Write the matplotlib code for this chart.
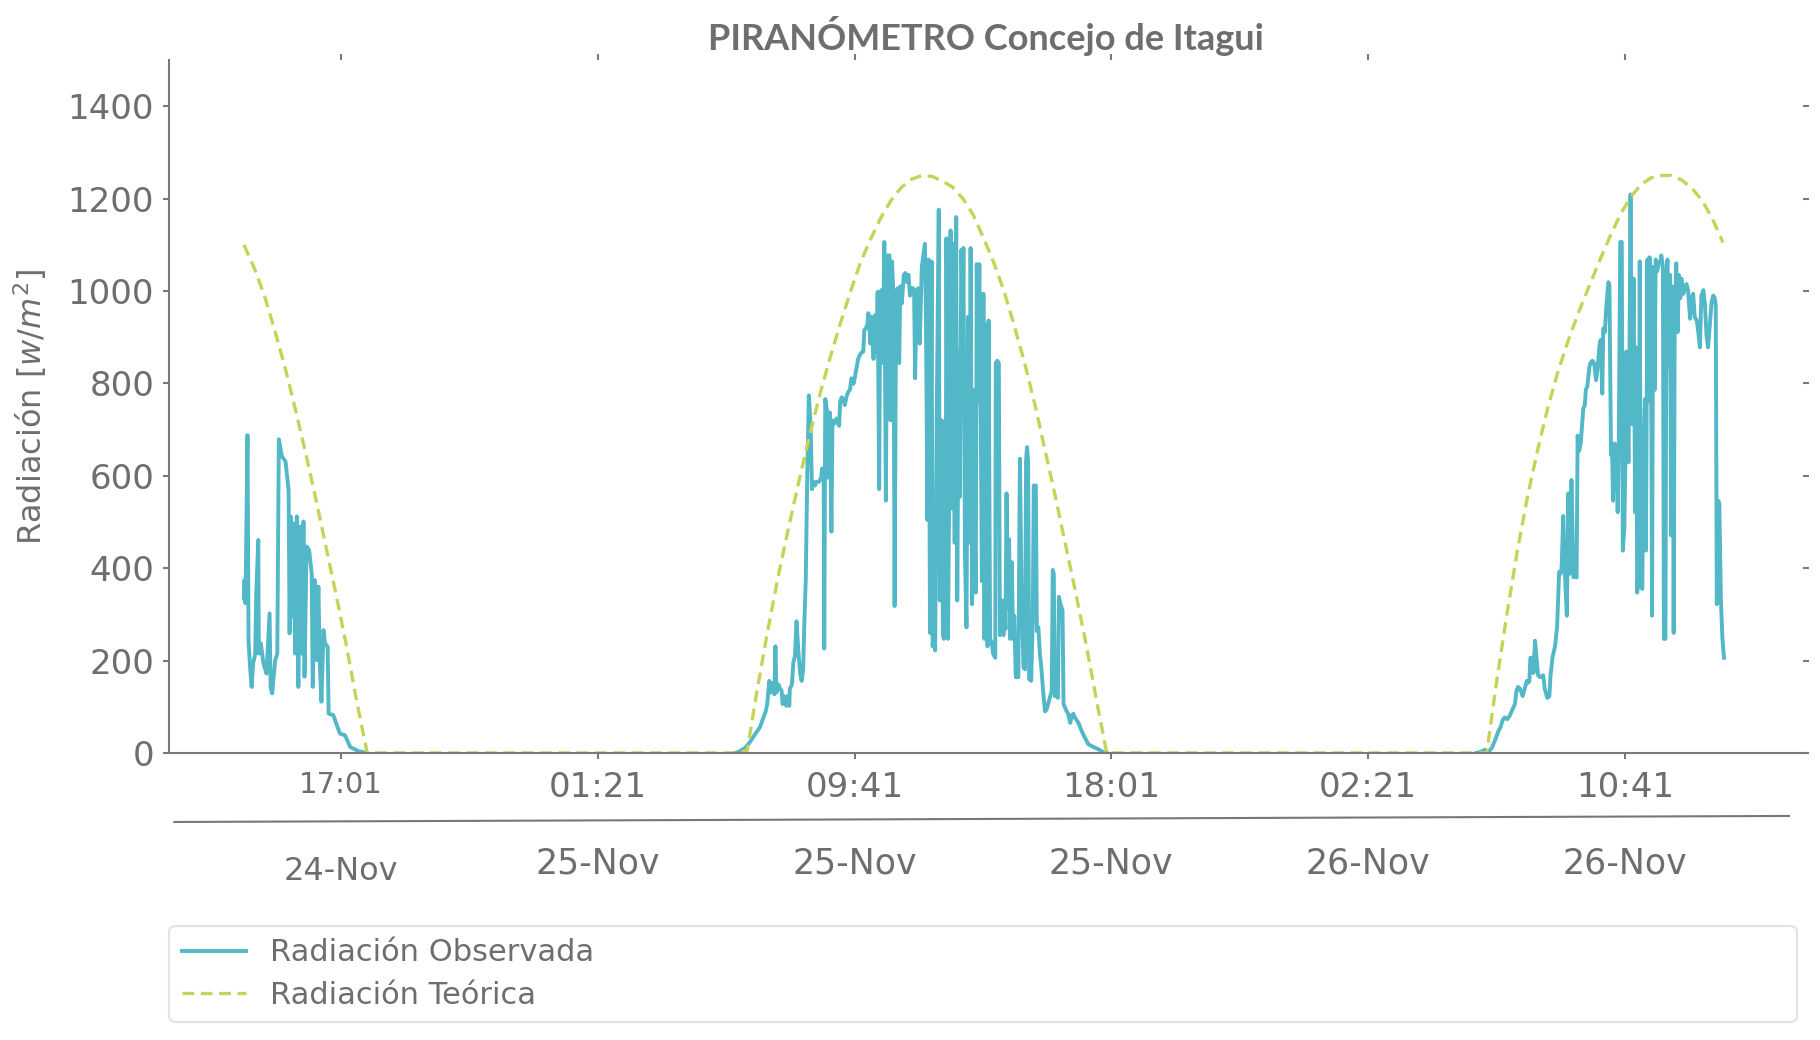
import numpy as np
import pandas as pd
import matplotlib
matplotlib.use("Agg")
import matplotlib.pyplot as plt
import matplotlib.dates as mdates
from matplotlib.transforms import blended_transform_factory

# ---------------- data ----------------
START = pd.Timestamp("2023-11-24 13:52")

# Observed radiation: minutes since START and W/m2 (one list pair per day)
obs_d1_min = [0, 1, 3, 7, 9, 12, 15, 18, 22, 24, 28, 29, 33, 38, 44, 50, 52, 55, 61, 65,
              68, 74, 81, 87, 89, 91, 93, 96, 100, 103, 106, 109, 113, 116, 118, 122, 127, 132, 134, 138,
              142, 145, 148, 151, 155, 158, 163, 165, 174, 181, 187, 197, 207, 223, 239]
obs_d1_val = [335, 374, 324, 688, 244, 186, 143, 194, 215, 345, 461, 215, 237, 194, 172, 302, 143, 129, 201, 215,
              679, 642, 631, 569, 259, 512, 295, 497, 215, 512, 143, 490, 215, 501, 165, 447, 439, 389, 143, 374,
              201, 360, 186, 111, 266, 237, 230, 85, 82, 60, 42, 38, 13, 4, 0]

obs_d2_min = [956, 963, 976, 985, 995, 1005, 1011, 1016, 1019, 1023, 1026, 1030, 1033, 1035, 1037, 1041, 1044, 1047,
              1049, 1052, 1056, 1059, 1062, 1063, 1067, 1070, 1073, 1076, 1080, 1083, 1086, 1089, 1091, 1094, 1097,
              1100, 1102, 1104, 1106, 1109, 1112, 1115, 1120, 1124, 1126, 1129, 1130, 1132, 1135, 1138, 1141, 1144,
              1146, 1149, 1154, 1159, 1161, 1164, 1167, 1170, 1174, 1177, 1180, 1183, 1187, 1190, 1196, 1201, 1206,
              1208, 1211, 1214, 1216, 1218, 1220, 1222, 1226, 1229, 1232, 1234, 1237, 1239, 1242, 1244, 1247, 1250,
              1253, 1257, 1259, 1262, 1265, 1267, 1270, 1273, 1276, 1278, 1281, 1285, 1288, 1291, 1294, 1297, 1300,
              1303, 1305, 1307, 1310, 1313, 1316, 1320, 1323, 1326, 1328, 1331, 1333, 1336, 1339, 1341, 1344, 1346,
              1349, 1353, 1355, 1359, 1361, 1363, 1366, 1368, 1371, 1374, 1376, 1379, 1381, 1384, 1387, 1389, 1392,
              1394, 1397, 1400, 1401, 1404, 1407, 1410, 1413, 1415, 1418, 1420, 1423, 1425, 1427, 1429, 1432, 1435,
              1437, 1440, 1442, 1445, 1448, 1450, 1453, 1456, 1459, 1463, 1464, 1467, 1470, 1472, 1476, 1479, 1481,
              1483, 1485, 1487, 1490, 1492, 1495, 1498, 1500, 1503, 1508, 1511, 1514, 1518, 1521, 1523, 1525, 1527,
              1529, 1533, 1536, 1538, 1542, 1544, 1547, 1550, 1553, 1557, 1560, 1563, 1566, 1570, 1573, 1575, 1577,
              1579, 1581, 1585, 1587, 1590, 1594, 1596, 1599, 1602, 1605, 1609, 1612, 1615, 1618, 1625, 1631, 1638,
              1644, 1654, 1664, 1673, 1680]
obs_d2_val = [0, 2, 11, 23, 40, 56, 75, 90, 106, 156, 131, 152, 127, 231, 131, 148, 139, 135,
              106, 123, 102, 123, 102, 139, 148, 197, 210, 285, 214, 173, 156, 181, 272, 372, 604,
              774, 737, 687, 571, 587, 579, 587, 587, 596, 616, 596, 226, 766, 745, 596, 737, 479,
              720, 712, 724, 708, 761, 770, 766, 753, 774, 782, 786, 811, 799, 815, 853, 865, 869,
              915, 919, 927, 952, 919, 886, 944, 853, 948, 869, 998, 571, 998, 1002, 844, 1106, 546,
              1077, 1077, 720, 1064, 985, 318, 990, 1006, 844, 1010, 973, 1035, 1039, 1019, 1035, 990, 1006,
              1006, 994, 811, 1002, 1006, 886, 1052, 1077, 1102, 952, 504, 1068, 260, 1064, 231, 264, 222,
              720, 1176, 330, 720, 255, 247, 251, 1114, 247, 654, 1131, 529, 1102, 455, 1160, 330, 869,
              554, 1089, 944, 1093, 430, 272, 944, 455, 1093, 322, 786, 488, 347, 1058, 761, 1058, 687,
              372, 994, 247, 927, 231, 936, 247, 239, 214, 206, 844, 849, 844, 255, 330, 255, 330,
              268, 562, 314, 463, 247, 413, 247, 297, 164, 164, 637, 372, 185, 181, 633, 662, 629,
              160, 156, 289, 579, 579, 264, 272, 214, 181, 123, 90, 94, 106, 123, 135, 396, 388,
              123, 131, 119, 338, 322, 309, 106, 98, 90, 85, 65, 81, 85, 77, 65, 48, 32,
              19, 13, 8, 2, 0]

obs_d3_min = [2400, 2407, 2417, 2423, 2430, 2436, 2443, 2447, 2451, 2455, 2460, 2465, 2470, 2475, 2478, 2481, 2485,
              2490, 2494, 2498, 2501, 2503, 2505, 2509, 2511, 2514, 2517, 2520, 2524, 2530, 2533, 2538, 2542, 2544,
              2548, 2553, 2557, 2561, 2564, 2566, 2569, 2572, 2576, 2579, 2582, 2585, 2589, 2592, 2595, 2597, 2600,
              2603, 2608, 2611, 2613, 2616, 2620, 2622, 2626, 2629, 2633, 2636, 2640, 2642, 2645, 2647, 2650, 2653,
              2657, 2659, 2662, 2664, 2666, 2668, 2672, 2675, 2677, 2680, 2683, 2685, 2688, 2690, 2692, 2696, 2698,
              2700, 2703, 2706, 2709, 2711, 2713, 2716, 2718, 2720, 2723, 2725, 2728, 2730, 2733, 2734, 2737, 2740,
              2742, 2744, 2747, 2749, 2752, 2755, 2758, 2760, 2763, 2765, 2768, 2770, 2772, 2775, 2777, 2779, 2782,
              2784, 2786, 2789, 2792, 2794, 2797, 2799, 2803, 2806, 2809, 2812, 2816, 2819, 2822, 2825, 2829, 2832,
              2835, 2838, 2842, 2845, 2848, 2851, 2855, 2858, 2861, 2864, 2866, 2868, 2871, 2873, 2876, 2879, 2882]
obs_d3_val = [0, 2, 7, 2, 11, 27, 48, 56, 71, 77, 73, 81, 94, 106, 135, 143, 139,
              123, 139, 156, 152, 156, 206, 206, 173, 243, 206, 168, 164, 168, 139, 119, 123, 164,
              206, 231, 272, 392, 388, 405, 513, 396, 297, 562, 388, 591, 380, 388, 380, 687, 654,
              670, 745, 753, 786, 794, 836, 844, 849, 844, 807, 836, 886, 894, 778, 919, 911, 969,
              1019, 1010, 645, 666, 546, 670, 666, 521, 654, 1106, 1106, 438, 488, 637, 869, 629, 869,
              1209, 712, 1027, 521, 878, 347, 413, 1064, 359, 355, 629, 766, 438, 1068, 761, 1073, 886,
              297, 1052, 786, 1068, 1043, 1060, 1064, 1077, 1052, 247, 247, 1035, 1068, 836, 1035, 471, 1010,
              260, 911, 1060, 911, 1035, 985, 1027, 994, 1010, 1015, 1002, 940, 985, 994, 944, 936, 911,
              878, 990, 1002, 969, 903, 878, 936, 977, 990, 985, 969, 322, 546, 538, 330, 247, 206]

# Theoretical radiation, every 20 minutes from START
teo_step = "20min"
teo_day1 = [1100, 1050, 990, 915, 835, 745, 650, 550, 445, 340, 230, 110, 0]          # 13:52 .. 17:52
teo_night1 = [0] * 36                                                                  # 18:12 .. 05:52
teo_day2 = [5, 140, 265, 380, 485, 585, 680, 770, 850, 925, 995, 1060, 1112, 1158, 1196, 1224,
            1242, 1250, 1248, 1238, 1225, 1200, 1165, 1115, 1062, 1000, 925, 845, 755, 655, 555,
            450, 345, 235, 115, 0]                                                     # 06:12 .. 17:52
teo_night2 = [0] * 36
teo_day3 = [0, 160, 305, 440, 558, 660, 752, 830, 897, 957, 1012, 1066, 1118, 1165, 1203, 1230,
            1245, 1250, 1250, 1240, 1222, 1195, 1155, 1105]                            # 06:12 .. 13:52

tick_times = ["2023-11-24 17:01", "2023-11-25 01:21", "2023-11-25 09:41",
              "2023-11-25 18:01", "2023-11-26 02:21", "2023-11-26 10:41"]
tick_labels = ["17:01", "01:21", "09:41", "18:01", "02:21", "10:41"]
date_labels = ["24-Nov", "25-Nov", "25-Nov", "25-Nov", "26-Nov", "26-Nov"]
y_ticks = [0, 200, 400, 600, 800, 1000, 1200, 1400]

# ---------------- build series ----------------
def to_time(mins):
    return START + pd.to_timedelta(np.asarray(mins, dtype=float), unit="m")

obs_t = []
obs_v = []
for m, v in [(obs_d1_min, obs_d1_val), (obs_d2_min, obs_d2_val), (obs_d3_min, obs_d3_val)]:
    obs_t.extend(list(to_time(m)))
    obs_v.extend(v)
    obs_t.append(to_time([m[-1] + 1])[0])
    obs_v.append(np.nan)
obs_series = pd.Series(obs_v, index=pd.DatetimeIndex(obs_t))

teo_vals = teo_day1 + teo_night1 + teo_day2 + teo_night2 + teo_day3
teo_series = pd.Series(teo_vals, index=pd.date_range(START, periods=len(teo_vals), freq=teo_step))

# ---------------- style ----------------
GRAY = "#6e6e6e"
SPINE = "#7a7a7a"
CYAN = "#52B7C6"
LIME = "#C8D257"

fig = plt.figure(figsize=(18.2, 10.4), dpi=100)
ax = fig.add_axes([0.0931, 0.276, 0.8976, 0.6663])

ax.plot(obs_series.index, obs_series.values, color=CYAN, lw=2.8,
        solid_joinstyle="round", label="Radiación Observada")
ax.plot(teo_series.index, teo_series.values, color=LIME, lw=2.4,
        dashes=(3.5, 2.0), label="Radiación Teórica")

ax.set_ylim(0, 1500)
ax.set_xlim(START + pd.Timedelta(minutes=-145), START + pd.Timedelta(minutes=3036))
ax.set_yticks(y_ticks)
ax.set_yticklabels([str(v) for v in y_ticks])
tick_dt = pd.to_datetime(tick_times)
ax.set_xticks(tick_dt)
ax.set_xticklabels(tick_labels)

for s in ["top", "right"]:
    ax.spines[s].set_visible(False)
for s in ["left", "bottom"]:
    ax.spines[s].set_color(SPINE)
    ax.spines[s].set_linewidth(1.5)

ax.tick_params(axis="both", direction="out", length=4, width=1.5, color=SPINE,
               labelcolor=GRAY, labelsize=24.5, top=True, right=True,
               labeltop=False, labelright=False)
ax.tick_params(axis="y", pad=7)
ax.tick_params(axis="x", pad=9)
ax.get_xticklabels()[0].set_fontsize(21)

# second row of date labels
trans = blended_transform_factory(ax.transData, ax.transAxes)
for i, (t, lab) in enumerate(zip(tick_dt, date_labels)):
    if i == 0:
        ax.text(mdates.date2num(t), -0.1705, lab, transform=trans, ha="center", va="center",
                fontsize=23, color=GRAY)
    else:
        ax.text(mdates.date2num(t), -0.1595, lab, transform=trans, ha="center", va="center",
                fontsize=25, color=GRAY)

# separator line between the two label rows
ax.plot([0.003, 0.9914], [-0.0996, -0.0909], transform=ax.transAxes, clip_on=False,
        color="#777777", lw=1.5)

ax.set_ylabel("Radiación [$w/m^2$]", fontsize=23, color=GRAY)
ax.yaxis.set_label_coords(-0.074, 0.5)

fig.text(0.5418, 0.9654, "PIRANÓMETRO Concejo de Itagui", ha="center", va="center",
         fontsize=26, fontweight="bold", family="Lato", color=GRAY)

leg = ax.legend(loc="upper left", bbox_to_anchor=(0.0, -0.25, 0.996, 0.0), mode="expand",
                borderaxespad=0, fontsize=22, frameon=True, fancybox=True,
                handlelength=2.1, labelspacing=0.45, labelcolor=GRAY)
leg.get_frame().set_edgecolor("#dddddd")
leg.get_frame().set_linewidth(1.5)

fig.savefig("out.png", dpi=100)
